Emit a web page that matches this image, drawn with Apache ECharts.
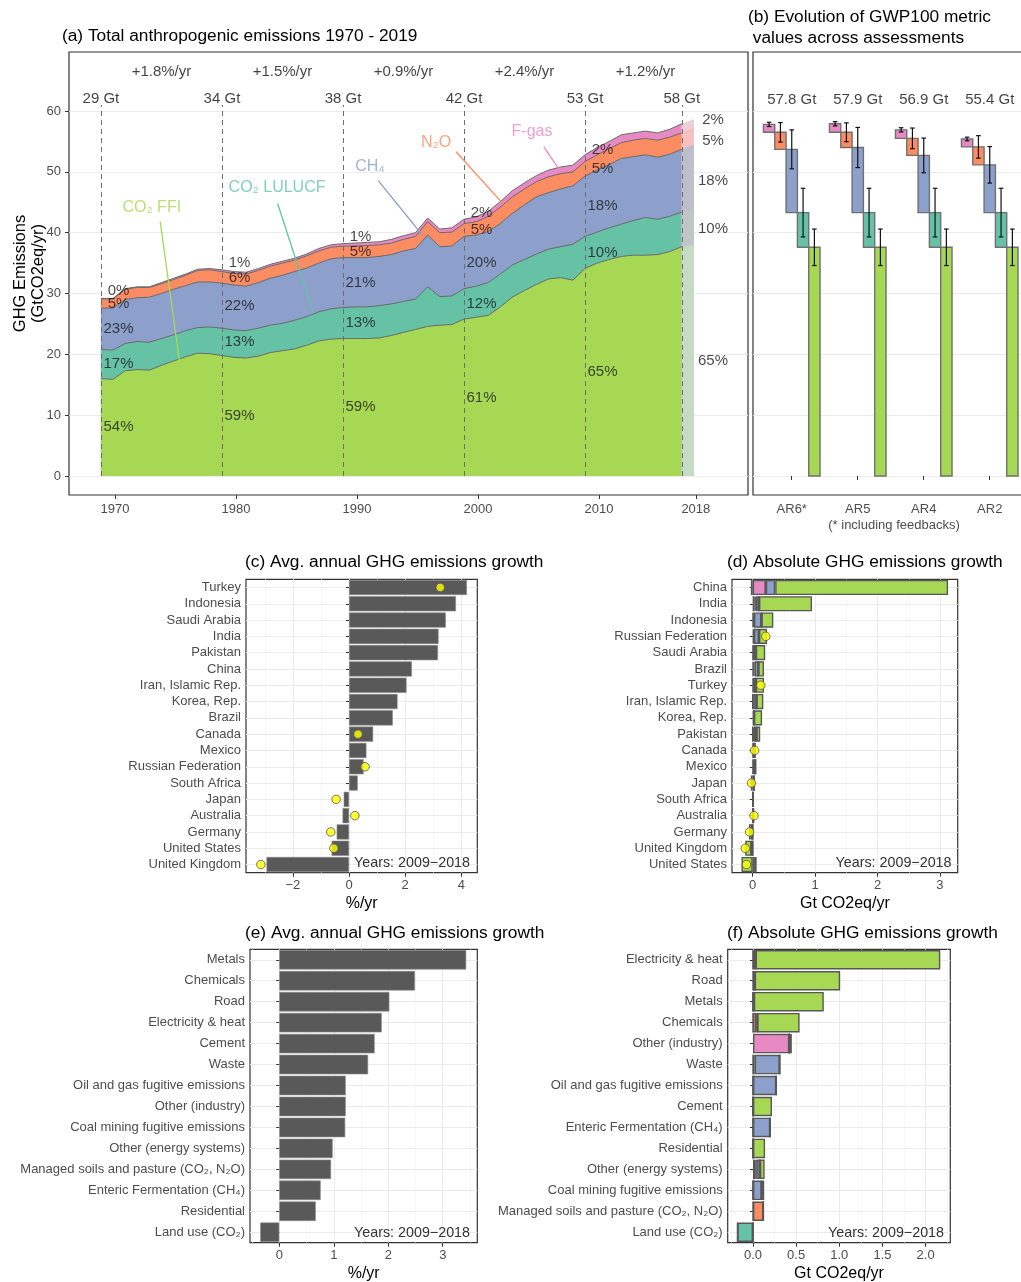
<!DOCTYPE html>
<html>
<head>
<meta charset="utf-8">
<script src="https://cdn.jsdelivr.net/npm/echarts@6/dist/echarts.min.js"></script>
<style>
html,body{margin:0;padding:0;overflow:hidden;background:#fff;}
#chart{width:1040px;height:1282px;}
</style>
</head>
<body>
<div id="chart"></div>
<script>
// ======================= DATA =======================
// (a) Total anthropogenic emissions, GtCO2eq/yr, by gas
const years = [1970,1971,1972,1973,1974,1975,1976,1977,1978,1979,
  1980,1981,1982,1983,1984,1985,1986,1987,1988,1989,
  1990,1991,1992,1993,1994,1995,1996,1997,1998,1999,
  2000,2001,2002,2003,2004,2005,2006,2007,2008,2009,
  2010,2011,2012,2013,2014,2015,2016,2017,2018];
const co2ffi = [16.0,15.9,17.3,17.5,17.4,18.2,18.9,19.6,20.2,20.1,
  19.8,19.5,19.4,19.7,20.3,20.6,20.9,21.5,22.2,22.5,
  22.6,22.6,22.6,22.7,23.1,23.6,24.1,24.6,24.8,24.9,
  25.8,26.1,26.4,27.8,29.4,30.5,31.5,32.4,32.6,32.2,
  34.1,35.0,35.6,36.1,36.3,36.3,36.4,36.9,37.7];
const co2lulucf = [4.8,4.8,4.5,4.6,4.6,4.4,4.3,4.3,4.2,4.4,
  4.5,4.5,4.5,4.6,4.5,4.5,4.7,4.7,4.8,5.0,
  5.1,5.2,5.2,5.3,5.2,5.1,5.0,6.5,4.7,4.7,
  5.0,5.1,5.4,5.4,5.3,5.1,5.0,4.9,5.1,5.9,
  5.3,5.1,5.2,5.3,5.7,6.2,5.8,5.8,5.7];
const ch4 = [6.8,6.9,7.2,7.2,7.4,7.4,7.5,7.4,7.5,7.4,
  7.4,7.4,7.3,7.5,7.7,7.9,8.0,8.0,8.0,8.2,
  8.2,8.1,8.1,8.1,8.1,8.3,8.3,8.5,8.2,8.2,
  8.6,8.4,8.4,8.3,8.5,9.0,9.4,9.3,9.5,9.6,
  9.9,10.2,10.4,10.8,10.5,10.3,10.2,10.2,10.3];
const n2o = [1.5,1.5,1.7,1.7,1.6,1.6,1.6,1.7,1.9,2.0,
  1.9,1.9,2.0,2.0,2.0,2.0,1.9,2.0,2.0,1.9,
  1.9,1.9,2.0,1.9,1.9,1.9,2.0,2.2,2.3,2.3,
  2.1,2.2,2.5,2.7,2.7,2.6,2.5,2.6,2.5,2.3,
  2.4,2.5,2.6,2.6,2.7,2.7,2.8,2.8,2.7];
const fgas = [0.1,0.1,0.1,0.1,0.1,0.2,0.2,0.2,0.2,0.2,
  0.3,0.3,0.3,0.3,0.3,0.3,0.3,0.3,0.4,0.4,
  0.4,0.5,0.5,0.5,0.6,0.6,0.6,0.6,0.6,0.7,
  0.7,0.8,0.8,0.9,1.0,1.0,1.0,1.1,1.1,1.1,
  1.1,1.2,1.2,1.3,1.2,1.2,1.2,1.3,1.5];
const bandYear = 2019;
const emis2019 = [38.0, 5.9, 10.6, 2.8, 1.4];            // FFI, LULUCF, CH4, N2O, F-gas
const markerYears = [1970, 1980, 1990, 2000, 2010, 2018];
const totalLabels = ['29 Gt', '34 Gt', '38 Gt', '42 Gt', '53 Gt', '58 Gt'];
const growthYears = [1975, 1985, 1995, 2005, 2015];
const growthLabels = ['+1.8%/yr', '+1.5%/yr', '+0.9%/yr', '+2.4%/yr', '+1.2%/yr'];
const shareYears = [1970, 1980, 1990, 2000, 2010];
const shares1970 = [54, 17, 23, 5, 0];                   // FFI, LULUCF, CH4, N2O, F-gas
const shares1980 = [59, 13, 22, 6, 1];
const shares1990 = [59, 13, 21, 5, 1];
const shares2000 = [61, 12, 20, 5, 2];
const shares2010 = [65, 10, 18, 5, 2];
const shares2019 = [65, 10, 18, 5, 2];
const gasNames = ['CO\u2082 FFI', 'CO\u2082 LULUCF', 'CH\u2084', 'N\u2082O', 'F-gas'];
const xTicksA = [1970, 1980, 1990, 2000, 2010, 2018];
const yTicksA = [0, 10, 20, 30, 40, 50, 60];

// (b) GWP100 metric across assessments
const assessments = ['AR6*', 'AR5', 'AR4', 'AR2'];
const gwpTotalLabels = ['57.8 Gt', '57.9 Gt', '56.9 Gt', '55.4 Gt'];
const gwpFfi = [37.6, 37.6, 37.6, 37.6];
const gwpLulucf = [5.7, 5.7, 5.7, 5.7];
const gwpCh4 = [10.4, 10.7, 9.4, 7.85];
const gwpN2o = [2.8, 2.5, 2.8, 2.95];
const gwpFgas = [1.3, 1.4, 1.4, 1.3];
const errFfi = [3.0, 3.0, 3.0, 3.0];
const errLulucf = [4.0, 4.0, 4.0, 4.0];
const errCh4 = [3.2, 3.3, 2.85, 3.0];
const errN2o = [1.6, 1.55, 1.7, 1.85];
const errFgas = [0.35, 0.35, 0.35, 0.3];

// (c) Avg. annual growth by country, %/yr
const countriesC = ['Turkey', 'Indonesia', 'Saudi Arabia', 'India', 'Pakistan', 'China', 'Iran, Islamic Rep.',
  'Korea, Rep.', 'Brazil', 'Canada', 'Mexico', 'Russian Federation', 'South Africa', 'Japan', 'Australia',
  'Germany', 'United States', 'United Kingdom'];
const growthC = [4.2, 3.81, 3.45, 3.19, 3.17, 2.24, 2.05, 1.73, 1.56, 0.86, 0.62, 0.52, 0.31, -0.19, -0.23, -0.44, -0.62, -2.94];
const dotsC = [3.25, null, null, null, null, null, null, null, null, 0.32, null, 0.57, null, -0.46, 0.21, -0.65, -0.54, -3.14];
const xTicksC = [-2, 0, 2, 4];

// (d) Absolute growth by country, Gt CO2eq/yr
const countriesD = ['China', 'India', 'Indonesia', 'Russian Federation', 'Saudi Arabia', 'Brazil', 'Turkey',
  'Iran, Islamic Rep.', 'Korea, Rep.', 'Pakistan', 'Canada', 'Mexico', 'Japan', 'South Africa', 'Australia',
  'Germany', 'United Kingdom', 'United States'];
const dFgas = [0.21, 0.03, 0.01, 0.02, 0.01, 0.01, 0.01, 0, 0.02, 0, 0.01, 0.01, 0.02, 0, 0.005, 0, 0, 0.03];
const dN2o = [0, 0.02, 0.01, 0, 0, 0.02, 0.01, 0.01, 0, 0.02, 0, 0, 0, 0, 0, 0, 0, 0.01];
const dCh4 = [0.15, 0.05, 0.12, 0.08, 0.04, 0.06, 0.03, 0.05, 0, 0.04, 0.01, 0.02, 0, 0.005, 0.005, -0.01, -0.02, 0.01];
const dLulucf = [-0.03, 0, 0, 0, 0, 0, 0, 0, 0, 0, 0, 0, 0, 0, 0, 0, 0, 0];
const dFfi = [2.77, 0.85, 0.19, 0.13, 0.15, 0.09, 0.13, 0.11, 0.13, 0.06, 0.03, 0.03, -0.03, 0.01, 0.01, -0.05, -0.1, -0.18];
const dotsD = [null, null, null, 0.21, null, null, 0.13, null, null, null, 0.03, null, -0.02, null, 0.02, -0.05, -0.12, -0.10];
const xTicksD = [0, 1, 2, 3];

// (e) Avg. annual growth by sector, %/yr
const sectorsE = ['Metals', 'Chemicals', 'Road', 'Electricity & heat', 'Cement', 'Waste',
  'Oil and gas fugitive emissions', 'Other (industry)', 'Coal mining fugitive emissions', 'Other (energy systems)',
  'Managed soils and pasture (CO\u2082, N\u2082O)', 'Enteric Fermentation (CH\u2084)', 'Residential', 'Land use (CO\u2082)'];
const growthE = [3.43, 2.49, 2.02, 1.88, 1.75, 1.63, 1.22, 1.22, 1.21, 0.98, 0.95, 0.76, 0.67, -0.35];
const xTicksE = [0, 1, 2, 3];

// (f) Absolute growth by sector, Gt CO2eq/yr
const sectorsF = ['Electricity & heat', 'Road', 'Metals', 'Chemicals', 'Other (industry)', 'Waste',
  'Oil and gas fugitive emissions', 'Cement', 'Enteric Fermentation (CH\u2084)', 'Residential',
  'Other (energy systems)', 'Coal mining fugitive emissions', 'Managed soils and pasture (CO\u2082, N\u2082O)', 'Land use (CO\u2082)'];
const fFgas = [0, 0, 0, 0, 0.42, 0, 0, 0, 0, 0, 0.03, 0, 0, 0];
const fN2o = [0.01, 0.02, 0, 0.04, 0, 0.02, 0, 0, 0, 0, 0.01, 0, 0.12, 0];
const fCh4 = [0.02, 0, 0.01, 0.01, 0, 0.29, 0.27, 0, 0.2, 0, 0.04, 0.1, 0, 0];
const fLulucf = [0, 0, 0, 0, 0, 0, 0, 0, 0, 0, 0, 0, 0, -0.18];
const fFfi = [2.14, 0.99, 0.81, 0.49, 0.03, 0, 0, 0.22, 0, 0.14, 0.055, 0.03, 0, 0];
const xTicksF = [0, 0.5, 1, 1.5, 2];

const yearsText = 'Years: 2009\u22122018';

// ======================= STYLE / LAYOUT =======================
const FONT = "'Liberation Sans', Arial, Helvetica, sans-serif";
const TXT = '#4d4d4d';
const BORDER = '#333333';
const GRIDC = '#ebebeb';
const COLORS = ['#a6d854', '#66c2a5', '#8da0cb', '#fc8d62', '#e78ac3']; // FFI, LULUCF, CH4, N2O, F-gas
const BAND_COLORS = ['#c4dcc6', '#c0c5c5', '#bdbfca', '#f7c0c2', '#e8d0d5'];

const chart = echarts.init(document.getElementById('chart'), null, {renderer: 'canvas'});

const grids = [
  {left: 69, top: 52, width: 679, height: 443},
  {left: 753, top: 52, width: 277, height: 443},
  {left: 246, top: 579.3, width: 231.3, height: 293.4},
  {left: 732, top: 579.3, width: 225.7, height: 293.4},
  {left: 250, top: 949.3, width: 227.3, height: 293.4},
  {left: 727.7, top: 949.3, width: 222.6, height: 293.4}
].map(g => Object.assign({show: true, borderColor: BORDER, borderWidth: 1.2, backgroundColor: 'transparent',
  containLabel: false, outerBoundsMode: 'none'}, g));

const lab = extra => Object.assign({color: TXT, fontSize: 13, fontFamily: FONT}, extra || {});
const tick = (vals, len) => ({show: true, customValues: vals, length: len || 4, lineStyle: {color: BORDER, width: 1}});
const minusFmt = v => (v < 0 ? '\u2212' + Math.abs(v) : String(v));
const axisName = {fontSize: 16, color: '#000', fontFamily: FONT};

function valueX(gi, min, max, ticks, fmt, name) {
  const ax = {gridIndex: gi, type: 'value', position: 'bottom', min, max,
    axisLine: {show: false}, splitLine: {show: false}, minorSplitLine: {show: false},
    axisTick: tick(ticks), axisLabel: lab({customValues: ticks, margin: 6.5, formatter: fmt})};
  if (name) Object.assign(ax, {name, nameLocation: 'middle', nameGap: 23, nameTextStyle: axisName, nameMoveOverlap: false});
  return ax;
}
function catY(gi, cats) {
  return {gridIndex: gi, type: 'category', data: cats, inverse: true,
    axisLine: {show: false}, splitLine: {show: false},
    axisTick: {show: true, alignWithLabel: true, interval: 0, length: 3, lineStyle: {color: BORDER, width: 1}},
    axisLabel: lab({margin: 5, interval: 0})};
}

const xAxes = [
  {gridIndex: 0, type: 'value', position: 'bottom', min: 1967.36, max: 2023.47, show: false},
  {gridIndex: 0, type: 'value', position: 'bottom', min: 1966.20, max: 2022.31,
    axisLine: {show: false}, splitLine: {show: false}, axisTick: tick(xTicksA),
    axisLabel: lab({customValues: xTicksA, margin: 8, formatter: v => String(v)})},
  {gridIndex: 1, type: 'value', position: 'bottom', min: 0.413, max: 4.61,
    axisLine: {show: false}, splitLine: {show: false}, axisTick: tick([1, 2, 3, 4]),
    axisLabel: lab({customValues: [1, 2, 3, 4], margin: 8, formatter: v => assessments[Math.round(v) - 1]})},
  valueX(2, -3.67, 4.57, xTicksC, minusFmt, '%/yr'),
  valueX(3, -0.332, 3.284, xTicksD, minusFmt, 'Gt CO2eq/yr'),
  valueX(4, -0.537, 3.634, xTicksE, minusFmt, '%/yr'),
  valueX(5, -0.293, 2.286, xTicksF, v => v.toFixed(1), 'Gt CO2eq/yr')
];
const yAxes = [
  {gridIndex: 0, type: 'value', min: -3.12, max: 69.7, axisLine: {show: false}, splitLine: {show: false},
    axisTick: tick(yTicksA), axisLabel: lab({customValues: yTicksA, margin: 8})},
  {gridIndex: 1, type: 'value', min: -3.12, max: 69.7, show: false},
  catY(2, countriesC),
  catY(3, countriesD),
  catY(4, sectorsE),
  catY(5, sectorsF)
];

const series = [];

// ---- grid lines (drawn under everything)
function minorsOf(majors, min, max) {
  const step = majors[1] - majors[0], out = [];
  for (let v = majors[0] - step / 2; v <= max + 1e-9; v += step) if (v >= min) out.push(+v.toFixed(4));
  return out;
}
function gridLineSeries(xi, yi, majorX, minorX, majorY) {
  const data = [];
  (minorX || []).forEach(v => data.push({xAxis: v, lineStyle: {color: '#f3f3f3', width: 0.7}}));
  (majorX || []).forEach(v => data.push({xAxis: v, lineStyle: {color: GRIDC, width: 1.1}}));
  (majorY || []).forEach(v => data.push({yAxis: v, lineStyle: {color: GRIDC, width: 1.1}}));
  return {type: 'line', xAxisIndex: xi, yAxisIndex: yi, data: [], silent: true, z: 0,
    markLine: {silent: true, z: 0, symbol: ['none', 'none'], animation: false, precision: 4,
      label: {show: false}, lineStyle: {type: 'solid'}, data}};
}
series.push(gridLineSeries(0, 0, null, null, yTicksA));
series.push(gridLineSeries(2, 1, null, null, yTicksA));
series.push(gridLineSeries(3, 2, xTicksC, minorsOf(xTicksC, -3.67, 4.57), countriesC.map((_, i) => i)));
series.push(gridLineSeries(4, 3, xTicksD, minorsOf(xTicksD, -0.332, 3.284), countriesD.map((_, i) => i)));
series.push(gridLineSeries(5, 4, xTicksE, minorsOf(xTicksE, -0.537, 3.634), sectorsE.map((_, i) => i)));
series.push(gridLineSeries(6, 5, xTicksF, minorsOf(xTicksF, -0.293, 2.286), sectorsF.map((_, i) => i)));

// ---- (a) stacked areas (cumulative computed, drawn top layer first)
const layersA = [co2ffi, co2lulucf, ch4, n2o, fgas];
const cumA = [];
layersA.forEach((arr, k) => cumA.push(arr.map((v, i) => (k ? cumA[k - 1][i] : 0) + v)));
for (let k = 4; k >= 0; k--) {
  series.push({type: 'line', xAxisIndex: 0, yAxisIndex: 0, z: 2, silent: true, symbol: 'none',
    data: years.map((y, i) => [y, +cumA[k][i].toFixed(3)]),
    lineStyle: {color: '#6b6b6b', width: 1}, areaStyle: {color: COLORS[k], opacity: 1}});
}
const lastI = years.length - 1;
const cum2019 = [];
emis2019.forEach((v, k) => cum2019.push((k ? cum2019[k - 1] : 0) + v));
for (let k = 4; k >= 0; k--) {
  series.push({type: 'line', xAxisIndex: 0, yAxisIndex: 0, z: 2, silent: true, symbol: 'none',
    data: [[years[lastI], +cumA[k][lastI].toFixed(3)], [bandYear, +cum2019[k].toFixed(3)]],
    lineStyle: {width: 0, opacity: 0}, areaStyle: {color: BAND_COLORS[k], opacity: 1}});
}
// dashed decade lines
series.push({type: 'line', xAxisIndex: 0, yAxisIndex: 0, data: [], silent: true, z: 3,
  markLine: {silent: true, z: 4, symbol: ['none', 'none'], animation: false, label: {show: false},
    lineStyle: {color: '#6e6e6e', type: [5, 4], width: 1},
    data: markerYears.map(y => [{coord: [y, 0]}, {coord: [y, 61]}])}});

// text helper
function textSeries(xi, yi, items, fontSize, color, z) {
  return {type: 'scatter', xAxisIndex: xi, yAxisIndex: yi, silent: true, z: z || 6, clip: false,
    symbolSize: 1, itemStyle: {color: 'rgba(0,0,0,0)'},
    label: {show: true, position: 'inside', fontFamily: FONT, fontSize, color, formatter: p => p.data.t},
    data: items.map(it => ({value: [it[0], it[1]], t: it[2], label: it[3] ? {color: it[3]} : undefined}))};
}
// totals + growth rates
series.push(textSeries(0, 0, markerYears.map((y, i) => [y, 62.0, totalLabels[i]]), 15, '#111'));
series.push(textSeries(0, 0, growthYears.map((y, i) => [y, 66.4, growthLabels[i]]), 15, '#111'));
// share labels
const SHARE_DX = 1.45, FGAS_SHIFT = 1.35;
function midOf(vals, k) { let lo = 0; for (let j = 0; j < k; j++) lo += vals[j]; return lo + vals[k] / 2; }
const shareTable = [shares1970, shares1980, shares1990, shares2000, shares2010];
const shareItems = [];
shareYears.forEach((yr, d) => {
  const idx = years.indexOf(yr);
  const vals = layersA.map(a => a[idx]);
  shareTable[d].forEach((s, k) => shareItems.push([yr + SHARE_DX, midOf(vals, k) + (k === 4 ? FGAS_SHIFT : 0), s + '%']));
});
const lastVals = layersA.map(a => a[lastI]);
shares2019.forEach((s, k) => shareItems.push([years[lastI] + 2.58, midOf(lastVals, k) + (k === 4 ? FGAS_SHIFT : 0), s + '%']));
series.push(textSeries(0, 0, shareItems, 15, '#1a1a1a'));

// gas name annotations with leader lines
const annotAnchors = [
  {at: [1974.2, 44.06], line: [[1974.9, 41.8], [1976.5, 18.7]]},
  {at: [1984.55, 47.35], line: [[1984.6, 44.8], [1987.55, 26.75]]},
  {at: [1992.23, 50.8], line: [[1992.9, 48.6], [1996.6, 39.5]]},
  {at: [1997.7, 54.74], line: [[1999.34, 53.3], [2003.25, 44.7]]},
  {at: [2005.62, 56.55], line: [[2006.6, 54.1], [2007.93, 50.2]]}
];
annotAnchors.forEach((a, k) => {
  series.push({type: 'line', xAxisIndex: 0, yAxisIndex: 0, z: 5, silent: true, symbol: 'none',
    data: a.line, lineStyle: {color: COLORS[k], width: 1.3}});
});
series.push(textSeries(0, 0, annotAnchors.map((a, k) => [a.at[0], a.at[1], gasNames[k], COLORS[k]]), 16, '#000'));

// ---- (b) waterfall with error bars
const BW = 0.1715;
function makeRect(color) {
  return (params, api) => {
    const g = api.value(0), lo = api.value(1), hi = api.value(2), k = api.value(3);
    const cx = g + (k - 2) * BW;
    const p1 = api.coord([cx - BW / 2, hi]), p2 = api.coord([cx + BW / 2, lo]);
    return {type: 'rect', shape: {x: p1[0], y: p1[1], width: p2[0] - p1[0], height: p2[1] - p1[1]},
      style: {fill: color, stroke: '#707070', lineWidth: 1.4}};
  };
}
function errRender(params, api) {
  const g = api.value(0), c = api.value(1), e = api.value(2), k = api.value(3);
  const cx = g + (k - 2) * BW;
  const t = api.coord([cx, c + e]), b = api.coord([cx, c - e]);
  const cap = 2.3, st = {stroke: '#111', lineWidth: 1.2};
  return {type: 'group', children: [
    {type: 'line', shape: {x1: t[0], y1: t[1], x2: b[0], y2: b[1]}, style: st},
    {type: 'line', shape: {x1: t[0] - cap, y1: t[1], x2: t[0] + cap, y2: t[1]}, style: st},
    {type: 'line', shape: {x1: b[0] - cap, y1: b[1], x2: b[0] + cap, y2: b[1]}, style: st}
  ]};
}
const gwpLayers = [gwpFfi, gwpLulucf, gwpCh4, gwpN2o, gwpFgas];
const gwpErrs = [errFfi, errLulucf, errCh4, errN2o, errFgas];
const errData = [];
gwpLayers.forEach((arr, c) => {
  const slot = 4 - c;
  const data = arr.map((v, g) => {
    let lo = 0; for (let j = 0; j < c; j++) lo += gwpLayers[j][g];
    errData.push([g + 1, lo + v, gwpErrs[c][g], slot]);
    return [g + 1, lo, lo + v, slot];
  });
  series.push({type: 'custom', xAxisIndex: 2, yAxisIndex: 1, z: 3, silent: true, data, renderItem: makeRect(COLORS[c])});
});
series.push({type: 'custom', xAxisIndex: 2, yAxisIndex: 1, z: 4, silent: true, data: errData, renderItem: errRender});
series.push(textSeries(2, 1, assessments.map((a, g) => [g + 1, 61.8, gwpTotalLabels[g]]), 15, '#111'));

// ---- (c) & (e) single bars
function greyBars(xi, yi, data) {
  return {type: 'bar', xAxisIndex: xi, yAxisIndex: yi, data, barWidth: '93%', z: 2, silent: true,
    itemStyle: {color: '#595959', borderColor: '#8c8c8c', borderWidth: 0.6}};
}
function dots(xi, yi, vals) {
  return {type: 'scatter', xAxisIndex: xi, yAxisIndex: yi, z: 5, silent: true, symbolSize: 8.5,
    itemStyle: {color: '#ffff00', borderColor: '#555555', borderWidth: 1},
    data: vals.map((v, i) => (v == null ? null : [v, i])).filter(Boolean)};
}
series.push(greyBars(3, 2, growthC));
series.push(dots(3, 2, dotsC));
series.push(greyBars(5, 4, growthE));

// ---- (d) & (f) stacked by gas
function stackedBars(xi, yi, layers, stackId) {
  // layers ordered: F-gas, N2O, CH4, LULUCF, FFI
  const cols = [COLORS[4], COLORS[3], COLORS[2], COLORS[1], COLORS[0]];
  layers.forEach((arr, k) => series.push({type: 'bar', xAxisIndex: xi, yAxisIndex: yi, stack: stackId,
    data: arr, barWidth: '93%', z: 2, silent: true,
    itemStyle: {color: cols[k], borderColor: '#575757', borderWidth: 1.4}}));
}
stackedBars(4, 3, [dFgas, dN2o, dCh4, dLulucf, dFfi], 'd');
series.push(dots(4, 3, dotsD));
stackedBars(6, 5, [fFgas, fN2o, fCh4, fLulucf, fFfi], 'f');

// ---- titles & free text
const titleStyle = {fontSize: 17.3, fontWeight: 'normal', color: '#000', fontFamily: FONT, lineHeight: 21};
const titles = [
  {text: '(a) Total anthropogenic emissions 1970 - 2019', left: 62, top: 25.5},
  {text: '(b) Evolution of GWP100 metric\n values across assessments', left: 748, top: 6.5},
  {text: '(c) Avg. annual GHG emissions growth', left: 245, top: 551.5},
  {text: '(d) Absolute GHG emissions growth', left: 727, top: 551.5},
  {text: '(e) Avg. annual GHG emissions growth', left: 245, top: 922.5},
  {text: '(f) Absolute GHG emissions growth', left: 727, top: 922.5}
].map(t => Object.assign({padding: 0, textStyle: titleStyle}, t));

function gText(x, y, text, size, color, align, extra) {
  return Object.assign({type: 'text', x, y, silent: true, z: 100,
    style: {text, fill: color, font: size + 'px ' + FONT, align, verticalAlign: 'middle',
      textAlign: align, textVerticalAlign: 'middle', lineHeight: 18}}, extra || {});
}
const graphics = [
  gText(29, 273.5, 'GHG Emissions\n(GtCO2eq/yr)', 16.5, '#000', 'center', {rotation: Math.PI / 2}),
  gText(894, 525, '(* including feedbacks)', 13, TXT, 'center'),
  gText(470, 863, yearsText, 14.3, '#333', 'right'),
  gText(951.5, 863, yearsText, 14.3, '#333', 'right'),
  gText(470, 1233, yearsText, 14.3, '#333', 'right'),
  gText(944, 1233, yearsText, 14.3, '#333', 'right')
];

chart.setOption({
  animation: false,
  backgroundColor: '#ffffff',
  textStyle: {fontFamily: FONT},
  title: titles,
  grid: grids,
  xAxis: xAxes,
  yAxis: yAxes,
  series,
  graphic: graphics
});
</script>
</body>
</html>
